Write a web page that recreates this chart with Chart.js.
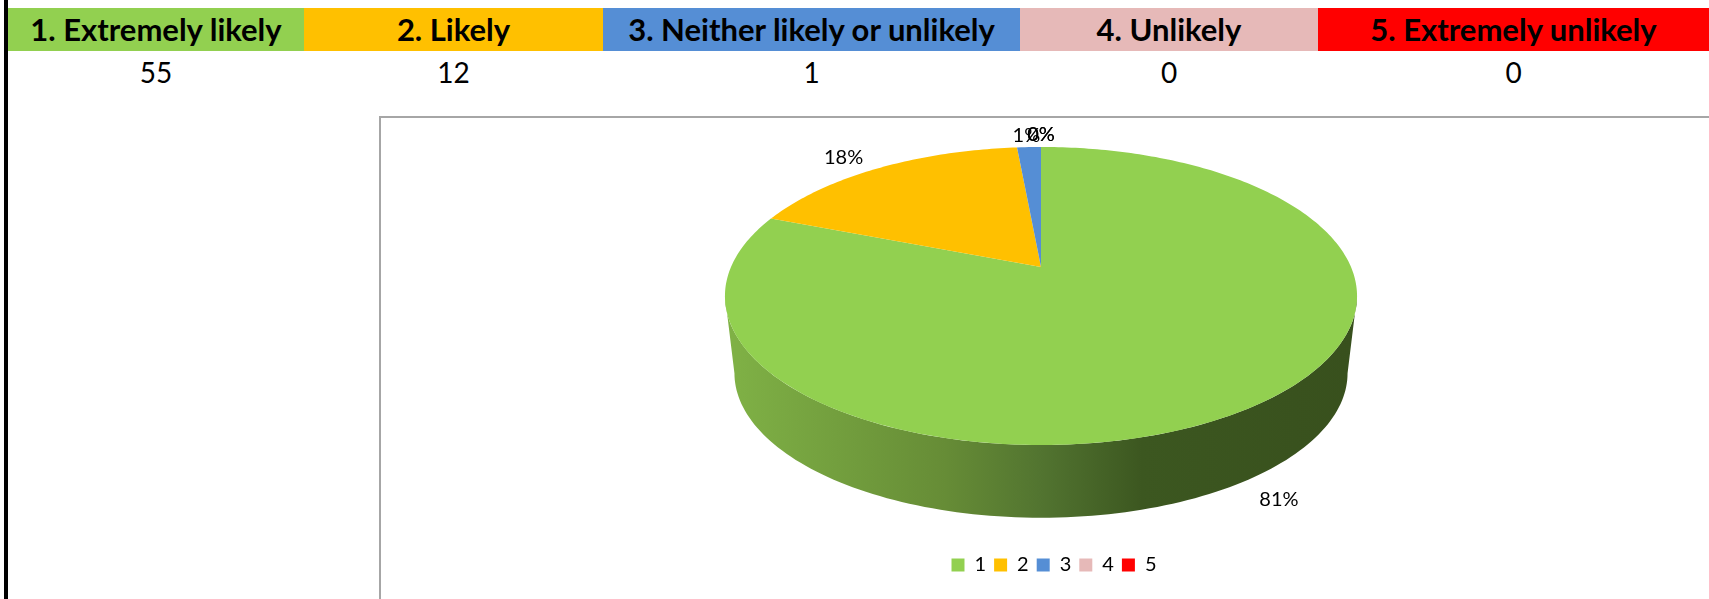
<!DOCTYPE html>
<html>
<head>
<meta charset="utf-8">
<script src="https://cdn.jsdelivr.net/npm/chart.js@4"></script>
<style>
  html, body { margin: 0; padding: 0; background: #fff; overflow: hidden; }
  body { width: 1709px; height: 599px; position: relative; font-family: Lato, sans-serif; color: #000; }
  #leftRule { position: absolute; left: 4px; top: 0; width: 4px; height: 599px; background: #000; }
  .cell { position: absolute; text-align: center; white-space: nowrap; }
  .head { top: 8px; height: 43px; line-height: 43px; font-weight: 700; font-size: 31px; }
  .count { top: 51px; height: 43px; line-height: 43px; font-size: 28px; }
  #chartBox { position: absolute; left: 379px; top: 116px; width: 1330px; height: 483px; box-sizing: border-box; border: 2px solid #a6a6a6; border-right: 0; border-bottom: 0; }
  #chartBox canvas { display: block; }
</style>
</head>
<body>
<div id="leftRule"></div>
<div id="table"></div>
<div id="chartBox"><canvas id="pie"></canvas></div>

<script>
const headers = ["1. Extremely likely", "2. Likely", "3. Neither likely or unlikely", "4. Unlikely", "5. Extremely unlikely"];
const legendLabels = ["1", "2", "3", "4", "5"];
const counts = [55, 12, 1, 0, 0];
const colors = ["#92D050", "#FFC000", "#558ED5", "#E6B9B8", "#FF0000"];
const cellEdges = [8, 304, 603, 1020, 1318, 1709];

// table on top of the chart
const table = document.getElementById("table");
headers.forEach((text, i) => {
  const left = cellEdges[i];
  const width = cellEdges[i + 1] - left;
  const head = document.createElement("div");
  head.className = "cell head";
  head.style.cssText = `left:${left}px;width:${width}px;background:${colors[i]}`;
  head.textContent = text;
  table.appendChild(head);
  const count = document.createElement("div");
  count.className = "cell count";
  count.style.cssText = `left:${left}px;width:${width}px`;
  count.textContent = counts[i];
  table.appendChild(count);
});

// perspective of the disc, in canvas pixels
const apexX = 660;
const apexY = 149;
const radiusX = 310;
const radiusY = 143.4;
const tilt = 0.1946;
const wallDrop = 78;
const wallScale = 0.97;

function project(angle, scale, drop) {
  const u = Math.cos(angle);
  const v = Math.sin(angle);
  const w = 1 - tilt * v;
  return {
    x: apexX + (scale * radiusX * u) / w,
    y: apexY + drop + (scale * radiusY * v) / w,
  };
}

function drawWall(ctx) {
  // the widest points of the projected circle sit at v = tilt
  const side = Math.asin(tilt);
  const steps = 120;
  const gradient = ctx.createLinearGradient(apexX - 316, 0, apexX + 316, 0);
  gradient.addColorStop(0, "#80B246");
  gradient.addColorStop(0.35, "#668C36");
  gradient.addColorStop(0.5, "#527430");
  gradient.addColorStop(0.66, "#3C5720");
  gradient.addColorStop(1, "#38501D");
  ctx.beginPath();
  for (let i = 0; i <= steps; i++) {
    const a = side + ((Math.PI - 2 * side) * i) / steps;
    const p = project(a, 1, 0);
    i ? ctx.lineTo(p.x, p.y) : ctx.moveTo(p.x, p.y);
  }
  for (let i = steps; i >= 0; i--) {
    const a = side + ((Math.PI - 2 * side) * i) / steps;
    const p = project(a, wallScale, wallDrop);
    ctx.lineTo(p.x, p.y);
  }
  ctx.closePath();
  ctx.fillStyle = gradient;
  ctx.fill();
}

const pie3d = {
  id: "pie3d",
  // replaces the flat arcs, angles still come from the controller
  beforeDatasetDraw(chart) {
    const ctx = chart.ctx;
    const arcs = chart.getDatasetMeta(0).data;
    ctx.save();
    drawWall(ctx);
    arcs.forEach((arc, i) => {
      if (arc.circumference === 0) return;
      const span = arc.endAngle - arc.startAngle;
      const steps = Math.max(2, Math.ceil(span * 60));
      ctx.beginPath();
      ctx.moveTo(apexX, apexY);
      for (let s = 0; s <= steps; s++) {
        const p = project(arc.startAngle + (span * s) / steps, 1, 0);
        ctx.lineTo(p.x, p.y);
      }
      ctx.closePath();
      ctx.fillStyle = colors[i];
      ctx.fill();
    });
    ctx.restore();
    return false;
  },
  afterDatasetsDraw(chart) {
    const ctx = chart.ctx;
    const arcs = chart.getDatasetMeta(0).data;
    const total = counts.reduce((a, b) => a + b, 0);
    ctx.save();
    ctx.font = "20px Lato";
    ctx.fillStyle = "#000";
    ctx.textAlign = "center";
    ctx.textBaseline = "middle";
    arcs.forEach((arc, i) => {
      const mid = (arc.startAngle + arc.endAngle) / 2;
      const front = Math.sin(mid) > 0;
      const p = project(mid, front ? 1.14 : 1.1, front ? wallDrop - 6 : 0);
      // labels behind the disc sit a bit further out sideways
      const x = front ? p.x : apexX + (p.x - apexX) * 1.11;
      ctx.fillText(Math.round((counts[i] / total) * 100) + "%", x, p.y);
    });
    ctx.restore();
  },
};

new Chart(document.getElementById("pie"), {
  type: "pie",
  data: {
    labels: legendLabels,
    datasets: [{ data: counts, backgroundColor: colors, borderWidth: 0 }],
  },
  plugins: [pie3d],
  options: {
    responsive: true,
    maintainAspectRatio: false,
    animation: false,
    layout: { padding: { left: 18, bottom: 14 } },
    plugins: {
      tooltip: { enabled: false },
      legend: {
        position: "bottom",
        labels: { boxWidth: 13, boxHeight: 13, padding: 8, color: "#000", font: { family: "Lato", size: 20 } },
      },
    },
  },
});
</script>
</body>
</html>
